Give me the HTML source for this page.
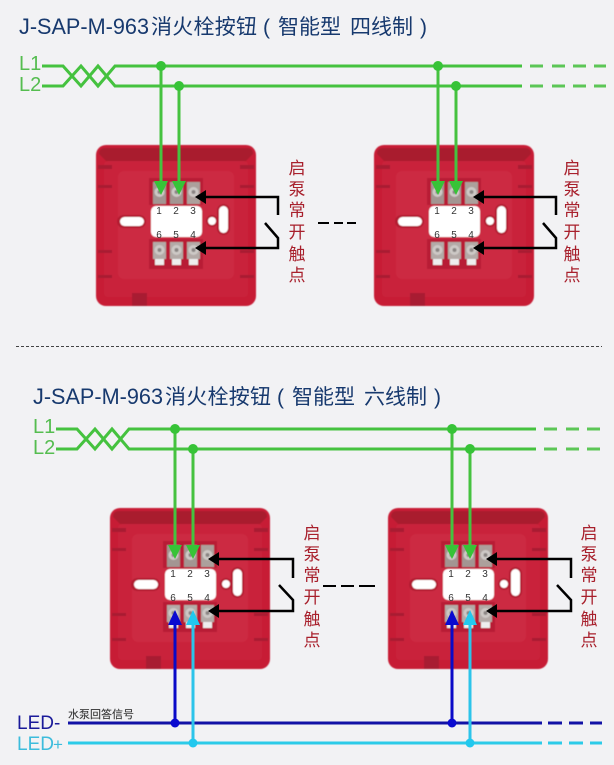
<!DOCTYPE html>
<html><head><meta charset="utf-8"><style>
html,body{margin:0;padding:0;background:#f2f2f4}
svg{display:block}
text{font-family:"Liberation Sans","Noto Sans CJK SC",sans-serif}
</style></head><body>
<svg width="614" height="765" viewBox="0 0 614 765" xmlns="http://www.w3.org/2000/svg">
<defs>
<filter id="soft" x="-5%" y="-5%" width="110%" height="110%"><feGaussianBlur stdDeviation="0.6"/></filter>
<g id="dev" filter="url(#soft)">
<rect x="0" y="0" width="160" height="161" rx="10" fill="#c71f36"/>
<path d="M3 9Q3 3 9 3H151Q157 3 157 9L150 16H10Z" fill="#a91a2e"/>
<rect x="8" y="16" width="144" height="136" rx="4" fill="#c9223a"/>
<rect x="22" y="26" width="116" height="108" rx="6" fill="#cc2c42"/>
<rect x="2" y="20" width="14" height="4" fill="#a81b30"/><rect x="2" y="40" width="14" height="3" fill="#a81b30"/>
<rect x="144" y="20" width="14" height="4" fill="#a81b30"/><rect x="144" y="40" width="14" height="3" fill="#a81b30"/>
<rect x="2" y="105" width="14" height="3" fill="#a81b30"/><rect x="2" y="130" width="14" height="3" fill="#a81b30"/>
<rect x="144" y="105" width="14" height="3" fill="#a81b30"/><rect x="144" y="130" width="14" height="3" fill="#a81b30"/>
<rect x="36" y="148" width="15" height="13" fill="#a81b30"/>
<rect x="53" y="33" width="54" height="27" fill="#b81f35"/>
<rect x="53" y="94" width="54" height="30" fill="#b81f35"/>
<rect x="21" y="70" width="29" height="13" rx="6.500" fill="#b31e33"/>
<rect x="55" y="61" width="51" height="31" rx="5" fill="#fff"/>
<rect x="24" y="72" width="24" height="9" rx="4.500" fill="#fff"/>
<rect x="121" y="59" width="13" height="31" rx="6.500" fill="#b31e33"/>
<circle cx="116" cy="76" r="6" fill="#b31e33"/>
<circle cx="116" cy="76" r="4" fill="#fff"/>
<rect x="123" y="61" width="9" height="27" rx="4.500" fill="#fff"/>
<rect x="57" y="37" width="13" height="22" fill="#a39592"/><circle cx="63.500" cy="47" r="5" fill="#cdc9c6"/><circle cx="63.500" cy="47" r="2" fill="#8a8583"/>
<rect x="74" y="37" width="13" height="22" fill="#a39592"/><circle cx="80.500" cy="47" r="5" fill="#cdc9c6"/><circle cx="80.500" cy="47" r="2" fill="#8a8583"/>
<rect x="91" y="37" width="13" height="22" fill="#aca09c"/><circle cx="97.500" cy="47" r="5" fill="#cdc9c6"/><circle cx="97.500" cy="47" r="2" fill="#8a8583"/>
<rect x="57" y="97" width="13" height="17" fill="#b3aaa7"/><circle cx="63.500" cy="105" r="5" fill="#cdc9c6"/><circle cx="63.500" cy="105" r="2" fill="#8a8583"/><rect x="59" y="114" width="9" height="6" fill="#eee"/>
<rect x="74" y="97" width="13" height="17" fill="#b3aaa7"/><circle cx="80.500" cy="105" r="5" fill="#cdc9c6"/><circle cx="80.500" cy="105" r="2" fill="#8a8583"/><rect x="76" y="114" width="9" height="6" fill="#eee"/>
<rect x="91" y="97" width="13" height="17" fill="#b3aaa7"/><circle cx="97.500" cy="105" r="5" fill="#cdc9c6"/><circle cx="97.500" cy="105" r="2" fill="#8a8583"/><rect x="93" y="114" width="9" height="6" fill="#eee"/>
</g>
</defs>

<g fill="#17396e" font-size="21">
<text x="19" y="34" font-size="22" textLength="130" lengthAdjust="spacingAndGlyphs">J-SAP-M-963</text>
<text x="151" y="34" textLength="106">消火栓按钮</text>
<text x="263" y="34">(</text>
<text x="278" y="34">智能型</text>
<text x="350" y="34">四线制</text>
<text x="420" y="34">)</text>
<text x="33" y="404" font-size="22" textLength="130" lengthAdjust="spacingAndGlyphs">J-SAP-M-963</text>
<text x="165" y="404" textLength="106">消火栓按钮</text>
<text x="277" y="404">(</text>
<text x="292" y="404">智能型</text>
<text x="364" y="404">六线制</text>
<text x="434" y="404">)</text>
</g>

<line x1="16" y1="346.500" x2="602" y2="346.500" stroke="#444" stroke-width="1" stroke-dasharray="3 2"/>

<use href="#dev" x="96" y="145"/>
<use href="#dev" x="374" y="145"/>
<use href="#dev" x="110" y="508"/>
<use href="#dev" x="388" y="508"/>

<g font-size="10" fill="#333" text-anchor="middle">
<text x="159" y="214">1</text><text x="176" y="214">2</text><text x="193" y="214">3</text><text x="159" y="238">6</text><text x="176" y="238">5</text><text x="193" y="238">4</text>
<text x="437" y="214">1</text><text x="454" y="214">2</text><text x="471" y="214">3</text><text x="437" y="238">6</text><text x="454" y="238">5</text><text x="471" y="238">4</text>
<text x="173" y="577">1</text><text x="190" y="577">2</text><text x="207" y="577">3</text><text x="173" y="601">6</text><text x="190" y="601">5</text><text x="207" y="601">4</text>
<text x="451" y="577">1</text><text x="468" y="577">2</text><text x="485" y="577">3</text><text x="451" y="601">6</text><text x="468" y="601">5</text><text x="485" y="601">4</text>
</g>

<g fill="none" stroke="#45c23f" stroke-width="3">
<path d="M42 66H63L81 86L98 66L115 86H522"/>
<path d="M42 86H63L81 66L98 86L115 66H522"/>
<path d="M530 66H543M552 66H565M573 66H586M594 66H606M530 86H543M552 86H565M573 86H586M594 86H606" stroke="#5cc656"/>
<path d="M161 66V182M179 86V182M438 66V182M456 86V182"/>
<path d="M56 429H77L95 449L112 429L129 449H536"/>
<path d="M56 449H77L95 429L112 449L129 429H536"/>
<path d="M544 429H557M566 429H579M587 429H600M544 449H557M566 449H579M587 449H600" stroke="#5cc656"/>
<path d="M175 429V546M193 449V546M452 429V546M470 449V546"/>
</g>
<g fill="#37c337">
<circle cx="161" cy="66" r="5"/><circle cx="179" cy="86" r="5"/><circle cx="438" cy="66" r="5"/><circle cx="456" cy="86" r="5"/>
<circle cx="175" cy="429" r="5"/><circle cx="193" cy="449" r="5"/><circle cx="452" cy="429" r="5"/><circle cx="470" cy="449" r="5"/>
<path d="M154 181H168L161 195ZM172 181H186L179 195ZM431 181H445L438 195ZM449 181H463L456 195Z"/>
<path d="M168 545H182L175 559ZM186 545H200L193 559ZM445 545H459L452 559ZM463 545H477L470 559Z"/>
</g>

<g fill="none" stroke-width="3">
<path d="M68 723H542M548 723H562M569 723H583M590 723H602" stroke="#1212a6"/>
<path d="M68 743H542M548 743H562M569 743H583M590 743H602" stroke="#2ccbe8"/>
<path d="M175 620V723M452 620V723" stroke="#0a0ac8"/>
<path d="M193 620V743M470 620V743" stroke="#2cc4ea"/>
</g>
<g fill="#0a0ad0"><circle cx="175" cy="723" r="4.500"/><circle cx="452" cy="723" r="4.500"/><path d="M168 625H182L175 610ZM445 625H459L452 610Z"/></g>
<g fill="#22c8ee"><circle cx="193" cy="743" r="4.500"/><circle cx="470" cy="743" r="4.500"/><path d="M186 625H200L193 610ZM463 625H477L470 610Z"/></g>

<g fill="none" stroke="#000" stroke-width="2.500">
<path d="M200 197H278V215M265 223L278 238V248H200"/>
<path d="M478 197H556V215M543 223L556 238V248H478"/>
<path d="M213 559H293V578M279 585L293 600V611H213"/>
<path d="M491 559H571V578M557 585L571 600V611H491"/>
<path d="M318 223H329M334 223H343M347 223H356" stroke-width="2"/>
<path d="M323 586H336M341 586H354M359 586H375" stroke-width="2"/>
</g>
<g fill="#000">
<path d="M195 197L206 190V204ZM195 248L206 241V255Z"/>
<path d="M473 197L484 190V204ZM473 248L484 241V255Z"/>
<path d="M208 559L219 552V566ZM208 611L219 604V618Z"/>
<path d="M486 559L497 552V566ZM486 611L497 604V618Z"/>
</g>

<g font-size="17" fill="#a8202c" text-anchor="middle">
<text x="297" y="174">启</text><text x="297" y="195">泵</text><text x="297" y="216">常</text><text x="297" y="238">开</text><text x="297" y="260">触</text><text x="297" y="281">点</text>
<text x="572" y="174">启</text><text x="572" y="195">泵</text><text x="572" y="216">常</text><text x="572" y="238">开</text><text x="572" y="260">触</text><text x="572" y="281">点</text>
<text x="312" y="539">启</text><text x="312" y="560">泵</text><text x="312" y="581">常</text><text x="312" y="603">开</text><text x="312" y="625">触</text><text x="312" y="646">点</text>
<text x="589" y="539">启</text><text x="589" y="560">泵</text><text x="589" y="581">常</text><text x="589" y="603">开</text><text x="589" y="625">触</text><text x="589" y="646">点</text>
</g>

<g font-size="20" fill="#55bd50">
<text x="19" y="70">L1</text><text x="19" y="91">L2</text>
<text x="33" y="433">L1</text><text x="33" y="454">L2</text>
</g>
<text x="17" y="729" font-size="19" fill="#1a1a9a">LED-</text>
<text x="17" y="750" font-size="19" fill="#3cbcdc">LED</text>
<text x="53" y="750" font-size="17" fill="#3cbcdc">+</text>
<text x="68" y="718" font-size="11" fill="#333" stroke="#333" stroke-width="0.100">水泵回答信号</text>
</svg>
</body></html>
